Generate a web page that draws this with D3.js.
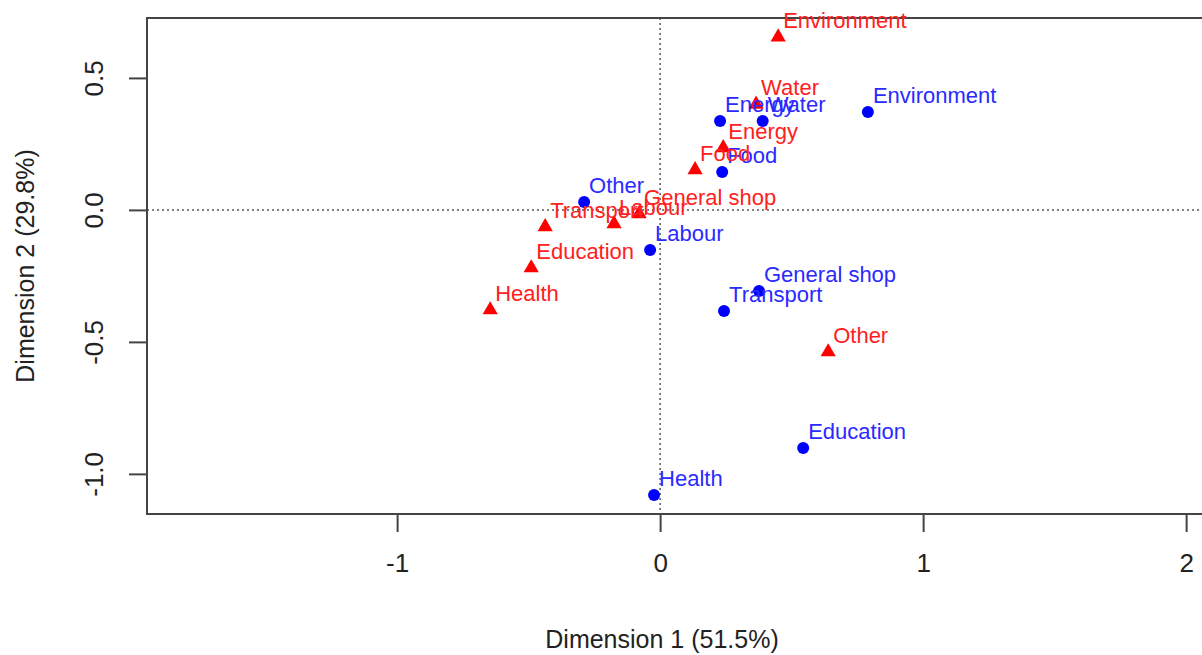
<!DOCTYPE html>
<html>
<head>
<meta charset="utf-8">
<script src="https://cdn.jsdelivr.net/npm/d3@7"></script>
<style>
  body { margin: 0; background: #fff; }
  text { font-family: "Liberation Sans", Arial, sans-serif; }
</style>
</head>
<body>
<svg id="ca-plot" width="1202" height="655"></svg>
<script>
// row points (blue circles)
var ROW_NAMES = ['Environment', 'Water', 'Energy', 'Food', 'Other', 'Labour',
  'General shop', 'Transport', 'Education', 'Health'];
var ROW_X = [0.79, 0.39, 0.228, 0.236, -0.289, -0.038, 0.376, 0.243, 0.544, -0.023];
var ROW_Y = [0.371, 0.337, 0.337, 0.144, 0.03, -0.152, -0.307, -0.383, -0.902, -1.08];

// column points (red triangles)
var COL_NAMES = ['Environment', 'Water', 'Energy', 'Food', 'General shop', 'Labour',
  'Transport', 'Education', 'Health', 'Other'];
var COL_X = [0.449, 0.365, 0.24, 0.133, -0.08, -0.175, -0.437, -0.49, -0.646, 0.639];
var COL_Y = [0.655, 0.40, 0.235, 0.152, -0.015, -0.053, -0.064, -0.22, -0.379, -0.538];

var X_TICKS = [-1, 0, 1, 2];
var Y_TICKS = [-1.0, -0.5, 0.0, 0.5];
var X_TITLE = 'Dimension 1 (51.5%)';
var Y_TITLE = 'Dimension 2 (29.8%)';

// R prints a plain hyphen for negatives
function hyphenate(fmt) {
  return function(d) { return fmt(d).replace('\u2212', '-'); };
}

var svg = d3.select('#ca-plot');
var margin = { top: 18, right: -2, bottom: 141, left: 147 };
var width = 1202 - margin.left - margin.right;
var height = 655 - margin.top - margin.bottom;

var x = d3.scaleLinear().domain([-1.951, 2.068]).range([0, width]);
var y = d3.scaleLinear().domain([-1.152, 0.727]).range([height, 0]);

var g = svg.append('g')
    .attr('transform', 'translate(' + margin.left + ',' + margin.top + ')');

// dotted reference lines through the origin
g.append('line')
    .attr('x1', x(0)).attr('x2', x(0))
    .attr('y1', 0).attr('y2', height)
    .attr('stroke', '#555').attr('stroke-width', 1.5)
    .attr('stroke-dasharray', '2,3');
g.append('line')
    .attr('x1', 0).attr('x2', width)
    .attr('y1', y(0)).attr('y2', y(0))
    .attr('stroke', '#555').attr('stroke-width', 1.5)
    .attr('stroke-dasharray', '2,3');

// axes
var xAxis = g.append('g')
    .attr('transform', 'translate(0,' + (height + 1) + ')')
    .call(d3.axisBottom(x).tickValues(X_TICKS).tickSize(17).tickPadding(22)
      .tickFormat(hyphenate(d3.format('d'))));
xAxis.select('.domain').remove();
xAxis.selectAll('.tick line').attr('stroke', '#444').attr('stroke-width', 2);
xAxis.selectAll('.tick text').attr('font-size', 26).attr('fill', '#222');

var yAxis = g.append('g')
    .attr('transform', 'translate(-1,0)')
    .call(d3.axisLeft(y).tickValues(Y_TICKS).tickSize(17).tickPadding(0)
      .tickFormat(hyphenate(d3.format('.1f'))));
yAxis.select('.domain').remove();
yAxis.selectAll('.tick line').attr('stroke', '#444').attr('stroke-width', 2);
yAxis.selectAll('.tick text')
    .attr('font-size', 26).attr('fill', '#222')
    .attr('text-anchor', 'middle')
    .attr('dy', 0)
    .attr('x', 0).attr('y', 0)
    .attr('transform', 'translate(-50,0) rotate(-90)')
    .attr('dominant-baseline', 'middle');

// frame
g.append('rect')
    .attr('x', 0).attr('y', 0)
    .attr('width', width).attr('height', height)
    .attr('fill', 'none').attr('stroke', '#444').attr('stroke-width', 2);

// axis titles
svg.append('text')
    .attr('x', 662).attr('y', 648)
    .attr('text-anchor', 'middle')
    .attr('font-size', 25).attr('fill', '#222')
    .text(X_TITLE);
svg.append('text')
    .attr('transform', 'translate(34,266) rotate(-90)')
    .attr('text-anchor', 'middle')
    .attr('font-size', 25).attr('fill', '#222')
    .text(Y_TITLE);

var rows = ROW_NAMES.map(function(d, i) { return { name: d, x: ROW_X[i], y: ROW_Y[i] }; });
var cols = COL_NAMES.map(function(d, i) { return { name: d, x: COL_X[i], y: COL_Y[i] }; });

g.selectAll('.row-pt')
    .data(rows)
  .enter().append('circle')
    .attr('class', 'row-pt')
    .attr('cx', function(d) { return x(d.x); })
    .attr('cy', function(d) { return y(d.y); })
    .attr('r', 6)
    .attr('fill', '#0000ff');

g.selectAll('.col-pt')
    .data(cols)
  .enter().append('path')
    .attr('class', 'col-pt')
    .attr('d', d3.symbol().type(d3.symbolTriangle).size(100))
    .attr('transform', function(d) {
      return 'translate(' + x(d.x) + ',' + y(d.y) + ')';
    })
    .attr('fill', '#ff0000');

g.selectAll('.row-lab')
    .data(rows)
  .enter().append('text')
    .attr('class', 'row-lab')
    .attr('x', function(d) { return x(d.x) + 5; })
    .attr('y', function(d) { return y(d.y) - 9; })
    .attr('font-size', 22)
    .attr('fill', '#2a2aff')
    .text(function(d) { return d.name; });

g.selectAll('.col-lab')
    .data(cols)
  .enter().append('text')
    .attr('class', 'col-lab')
    .attr('x', function(d) { return x(d.x) + 5; })
    .attr('y', function(d) { return y(d.y) - 9; })
    .attr('font-size', 22)
    .attr('fill', '#ff2020')
    .text(function(d) { return d.name; });
</script>
</body>
</html>
